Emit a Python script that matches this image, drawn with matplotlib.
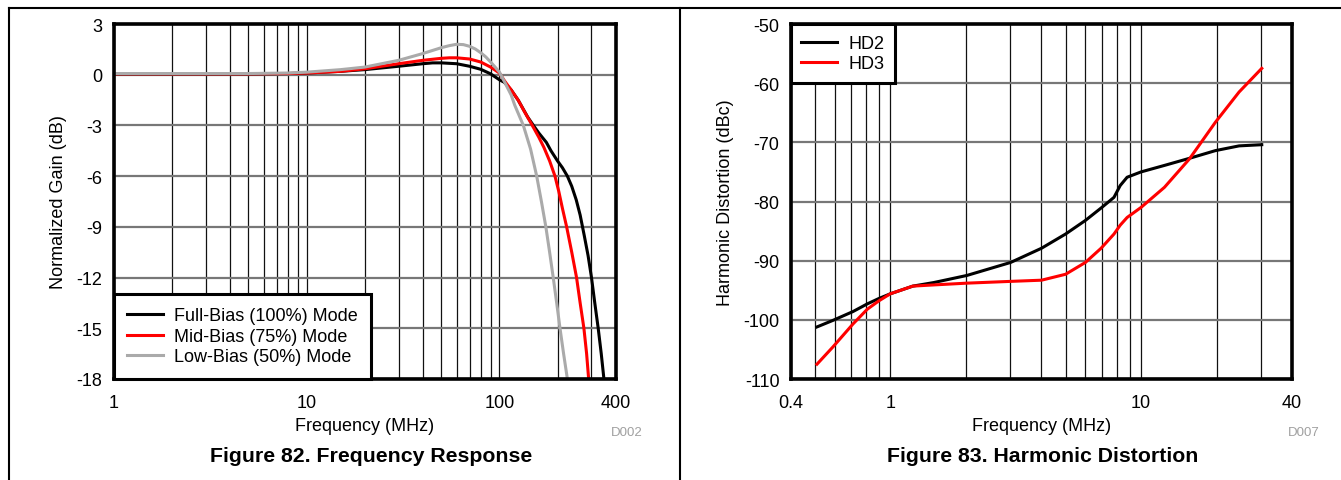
import matplotlib
matplotlib.use("Agg")
import matplotlib.pyplot as plt
from matplotlib.lines import Line2D
from matplotlib.ticker import FixedLocator, LogLocator, NullFormatter

plt.rcParams['font.family'] = ['Liberation Sans', 'DejaVu Sans']

# Figure 82 - frequency response (MHz, dB)
full_f = [1, 2, 5, 8, 10, 15, 20, 30, 40, 45, 50, 60, 70, 80, 90, 100, 106, 115, 125, 140, 150,
          160, 175, 185, 200, 212, 225, 237, 250, 262, 275, 288, 300, 312, 325, 337, 348]
full_g = [0.05, 0.05, 0.05, 0.07, 0.1, 0.2, 0.3, 0.5, 0.65, 0.7, 0.7, 0.65, 0.5, 0.32, 0.05, -0.3,
          -0.45, -0.9, -1.5, -2.5, -3.0, -3.45, -4.0, -4.5, -5.1, -5.5, -6.0, -6.6, -7.4, -8.3,
          -9.5, -10.7, -12.0, -13.5, -15.0, -16.5, -18.0]

mid_f = [1, 2, 5, 8, 10, 15, 20, 30, 40, 50, 55, 60, 70, 80, 90, 100, 106, 115, 125, 135, 148,
         160, 170, 182, 194, 203, 212, 223, 237, 251, 262, 274, 283, 290]
mid_g = [0.05, 0.05, 0.05, 0.07, 0.1, 0.2, 0.35, 0.65, 0.85, 0.97, 1.0, 1.0, 0.93, 0.75, 0.45,
         0.1, -0.35, -0.9, -1.5, -2.2, -3.0, -3.7, -4.3, -5.1, -6.0, -6.9, -7.9, -9.0, -10.5,
         -12.0, -13.5, -15.0, -16.5, -18.0]

low_f = [1, 2, 5, 8, 10, 15, 20, 30, 40, 50, 55, 60, 65, 70, 75, 80, 85, 90, 95, 100, 106, 115,
         120, 133, 145, 156, 165, 174, 182, 190, 198, 206, 215, 225]
low_g = [0.07, 0.07, 0.07, 0.1, 0.15, 0.3, 0.45, 0.85, 1.25, 1.6, 1.72, 1.8, 1.78, 1.68, 1.52,
         1.3, 1.05, 0.75, 0.45, 0.15, -0.4, -1.2, -1.8, -3.0, -4.4, -6.0, -7.5, -9.0, -10.5,
         -12.0, -13.5, -15.0, -16.5, -18.0]

# Figure 83 - harmonic distortion (MHz, dBc)
hd_f = [0.51, 0.59, 0.71, 0.81, 0.9, 1.0, 1.23, 1.49, 2.02, 3.02, 4.01, 5.0, 6.0, 6.93, 7.8,
        8.26, 8.8, 10, 12.4, 15.6, 19.8, 24.6, 30.3]
hd2 = [-101.2, -100.1, -98.6, -97.3, -96.4, -95.6, -94.3, -93.7, -92.5, -90.3, -87.9, -85.5,
       -83.2, -81.1, -79.3, -77.3, -75.9, -75.0, -73.9, -72.7, -71.4, -70.6, -70.4]
hd3 = [-107.5, -104.6, -100.7, -98.2, -96.8, -95.6, -94.3, -94.1, -93.8, -93.5, -93.3, -92.3,
       -90.3, -87.9, -85.5, -84.0, -82.7, -81.0, -77.6, -72.8, -66.6, -61.5, -57.5]

W, H = 1341, 481
fig = plt.figure(figsize=(W / 100, H / 100), dpi=100)

# page frame lines
top = 1 - 9 / H
fig.add_artist(Line2D([8.5 / W, 1], [top, top], color='k', lw=1.5))
fig.add_artist(Line2D([8.5 / W, 8.5 / W], [0, top], color='k', lw=1.5))
fig.add_artist(Line2D([679.5 / W, 679.5 / W], [0, top], color='k', lw=1.5))

fs = 13


def style(ax):
    ax.set_xscale('log')
    ax.xaxis.set_minor_locator(LogLocator(subs=range(2, 10)))
    ax.xaxis.set_minor_formatter(NullFormatter())
    ax.grid(axis='x', which='both', color='#111111', lw=0.9)
    ax.grid(axis='y', which='major', color='#777777', lw=1.6)
    ax.tick_params(which='both', length=0, labelsize=fs)
    ax.tick_params(axis='x', pad=11)
    ax.tick_params(axis='y', pad=8)
    for s in ax.spines.values():
        s.set_linewidth(2.6)
    ax.set_axisbelow(True)


ax1 = fig.add_axes([113.6 / W, 1 - 380 / H, 502 / W, 355 / H])
style(ax1)
ax1.plot(full_f, full_g, color='black', lw=2.2, label='Full-Bias (100%) Mode')
ax1.plot(mid_f, mid_g, color='#ff0000', lw=2.2, label='Mid-Bias (75%) Mode')
ax1.plot(low_f, low_g, color='#aaaaaa', lw=2.2, label='Low-Bias (50%) Mode')
ax1.set_xlim(1, 400)
ax1.set_ylim(-18, 3)
yt1 = list(range(-18, 4, 3))
ax1.yaxis.set_major_locator(FixedLocator(yt1))
ax1.set_yticklabels([str(v) for v in yt1])
ax1.xaxis.set_major_locator(FixedLocator([1, 10, 100, 400]))
ax1.set_xticklabels(['1', '10', '100', '400'])
ax1.set_xlabel('Frequency (MHz)', fontsize=fs, labelpad=4)
ax1.set_ylabel('Normalized Gain (dB)', fontsize=fs, labelpad=7)
leg1 = ax1.legend(loc='lower left', bbox_to_anchor=(0, 0), borderaxespad=0, fontsize=fs,
                  fancybox=False, framealpha=1, edgecolor='black', handlelength=2.0,
                  handletextpad=0.6, labelspacing=0.2, borderpad=0.75)
leg1.get_frame().set_linewidth(2.2)

ax2 = fig.add_axes([790.5 / W, 1 - 380 / H, 501.5 / W, 355 / H])
style(ax2)
ax2.plot(hd_f, hd2, color='black', lw=2.2, label='HD2')
ax2.plot(hd_f, hd3, color='#ff0000', lw=2.2, label='HD3')
ax2.set_xlim(0.4, 40)
ax2.set_ylim(-110, -50)
yt2 = list(range(-110, -49, 10))
ax2.yaxis.set_major_locator(FixedLocator(yt2))
ax2.set_yticklabels([str(v) for v in yt2])
ax2.xaxis.set_major_locator(FixedLocator([0.4, 1, 10, 40]))
ax2.set_xticklabels(['0.4', '1', '10', '40'])
ax2.set_xlabel('Frequency (MHz)', fontsize=fs, labelpad=4)
ax2.set_ylabel('Harmonic Distortion (dBc)', fontsize=fs, labelpad=7)
leg2 = ax2.legend(loc='upper left', bbox_to_anchor=(0, 1), borderaxespad=0, fontsize=fs,
                  fancybox=False, framealpha=1, edgecolor='black', handlelength=2.0,
                  handletextpad=0.6, labelspacing=0.2, borderpad=0.6)
leg2.get_frame().set_linewidth(2.2)

fig.text(627 / W, 1 - 433 / H, 'D002', color='#a0a0a0', fontsize=9.5, ha='center', va='center')
fig.text(1304 / W, 1 - 433 / H, 'D007', color='#a0a0a0', fontsize=9.5, ha='center', va='center')
fig.text(371 / W, 1 - 457 / H, 'Figure 82. Frequency Response', fontsize=15.3, fontweight='bold',
         ha='center', va='center')
fig.text(1043 / W, 1 - 457 / H, 'Figure 83. Harmonic Distortion', fontsize=15.3, fontweight='bold',
         ha='center', va='center')

fig.savefig('out.png', dpi=100)
